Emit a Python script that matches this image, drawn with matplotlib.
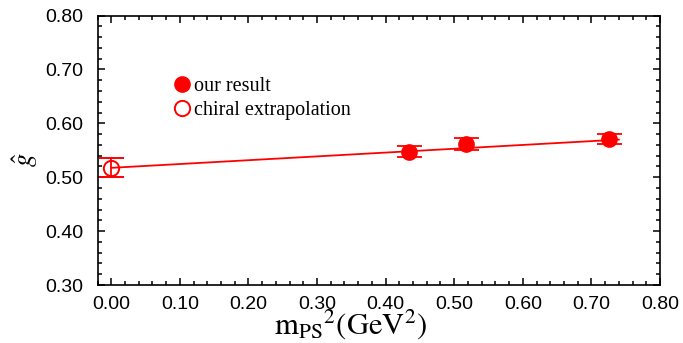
import matplotlib
matplotlib.use('Agg')
import matplotlib.pyplot as plt
from matplotlib.lines import Line2D
from matplotlib.ticker import MultipleLocator, FormatStrFormatter
import numpy as np

# lattice results
mps2 = [0.434, 0.517, 0.726]
g_hat = [0.547, 0.562, 0.571]
g_err = [0.010, 0.011, 0.010]

# chiral extrapolation
chiral_x = [0.0]
chiral_g = [0.518]
chiral_err = [0.017]

# linear fit  g = a + b * mps2
fit_a = 0.5174
fit_b = 0.0708
fit_range = [0.0, 0.74]

plt.rcParams['font.family'] = ['Liberation Sans', 'DejaVu Sans']
plt.rcParams['mathtext.fontset'] = 'stix'

fig = plt.figure(figsize=(6.83, 3.43), dpi=100)
ax = fig.add_axes([0.1428, 0.169, 0.8235, 0.7858])

red = '#ff0000'

xs = np.array(fit_range)
ax.plot(xs, fit_a + fit_b * xs, color=red, lw=1.3, zorder=2)

ax.errorbar(mps2, g_hat, yerr=g_err, fmt='o', color=red, ms=11, mec=red,
            mfc=red, elinewidth=1.3, capsize=9, capthick=1.3, zorder=3)
ax.errorbar(chiral_x, chiral_g, yerr=chiral_err, fmt='o', color=red, ms=11,
            mec=red, mfc='none', mew=1.4, elinewidth=1.3, capsize=9,
            capthick=1.3, zorder=3)

ax.set_xlim(-0.02, 0.80)
ax.set_ylim(0.30, 0.80)
ax.xaxis.set_major_locator(MultipleLocator(0.1))
ax.xaxis.set_minor_locator(MultipleLocator(0.02))
ax.yaxis.set_major_locator(MultipleLocator(0.1))
ax.yaxis.set_minor_locator(MultipleLocator(0.02))
ax.xaxis.set_major_formatter(FormatStrFormatter('%.2f'))
ax.yaxis.set_major_formatter(FormatStrFormatter('%.2f'))
ax.tick_params(which='both', direction='in', top=True, right=True,
               width=1.1, labelsize=14, pad=8)
ax.tick_params(axis='y', pad=10)
ax.tick_params(which='major', length=5)
ax.tick_params(which='minor', length=3)
for sp in ax.spines.values():
    sp.set_linewidth(1.2)

ax.set_xlabel(r'$\mathrm{m_{PS}}{}^{2}\mathrm{(GeV^{2})}$', fontsize=22)
ax.xaxis.set_label_coords(0.449, -0.08)
ax.set_ylabel(r'$\hat{g}$', fontsize=19)
ax.yaxis.set_label_coords(-0.102, 0.463)

handles = [
    Line2D([], [], ls='none', marker='o', ms=11, color=red, mfc=red),
    Line2D([], [], ls='none', marker='o', ms=11, color=red, mfc='none', mew=1.4),
]
ax.legend(handles, ['our result', 'chiral extrapolation'], loc='upper left',
          bbox_to_anchor=(0.096, 0.84), frameon=False, handletextpad=0.0,
          handlelength=1.2, labelspacing=0.25,
          prop={'family': 'Liberation Serif', 'size': 14.5})

fig.savefig('out.png', dpi=100)
